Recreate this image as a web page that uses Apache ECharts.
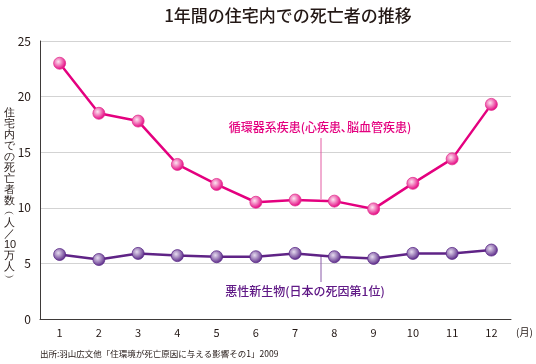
<!DOCTYPE html>
<html><head><meta charset="utf-8">
<script src="https://cdn.jsdelivr.net/npm/echarts@6/dist/echarts.min.js"></script>
<style>html,body{margin:0;padding:0;background:#fff}#c{width:536px;height:364px}</style>
</head><body><div id="c"></div>
<script>
var months = ['1','2','3','4','5','6','7','8','9','10','11','12'];
var circulatory = [23.0, 18.5, 17.8, 13.9, 12.1, 10.5, 10.7, 10.6, 9.9, 12.2, 14.4, 19.3];
var cancer = [5.8, 5.35, 5.9, 5.7, 5.6, 5.6, 5.9, 5.6, 5.45, 5.9, 5.9, 6.2];
var yTicks = [0, 5, 10, 15, 20, 25];

var FONT = '"Noto Sans CJK JP", "Noto Sans", sans-serif';
var TXT = '#231815';
var PINK = '#e4007f';
var PURPLE = '#5f2386';

function ball(c0, c1) {
  return {type:'radial', x:0.4, y:0.38, r:0.62, colorStops:[{offset:0,color:c0},{offset:1,color:c1}]};
}

var chart = echarts.init(document.getElementById('c'));
var yName = ['住','宅','内','で','の','死','亡','者','数','︵','人','／','10','万','人','︶'].join('\n');
chart.setOption({
  animation:false,
  textStyle:{fontFamily:FONT},
  title:{text:'1年間の住宅内での死亡者の推移', left:283, top:2, textAlign:'center',
    textStyle:{fontSize:17, fontWeight:500, color:TXT, fontFamily:FONT}},
  grid:{left:40, right:25, top:41, bottom:45},
  xAxis:{type:'category', data:months, boundaryGap:true,
    axisLine:{lineStyle:{color:'#3e3a39', width:1}},
    axisTick:{inside:true, length:4, lineStyle:{color:'#3e3a39'}},
    axisLabel:{color:TXT, fontSize:11, margin:8, fontFamily:FONT}},
  yAxis:{type:'value', min:0, max:25, interval:5,
    axisLine:{show:true, lineStyle:{color:'#3e3a39', width:1}},
    axisTick:{show:false},
    axisLabel:{color:TXT, fontSize:12, margin:9, fontFamily:FONT,
      formatter:function(v){return yTicks.indexOf(v)>=0? String(v):'';}},
    splitLine:{lineStyle:{color:'#d3d3d3', width:1}}},
  series:[
    {type:'line', data:circulatory, symbol:'circle', symbolSize:12,
      lineStyle:{color:PINK, width:2.5}, itemStyle:{color:ball('#fde6f1', PINK), borderColor:'#e2338f', borderWidth:0.8}, z:3},
    {type:'line', data:cancer, symbol:'circle', symbolSize:12,
      lineStyle:{color:PURPLE, width:2.5}, itemStyle:{color:ball('#e6dcef', '#5b2a88'), borderColor:'#5b2a88', borderWidth:0.8}, z:3}
  ],
  graphic:[
    {type:'text', left:4, top:107, style:{text:yName, fontSize:11, lineHeight:11, fill:TXT, align:'center', font:'11px '+FONT, width:14}},
    {type:'line', shape:{x1:321, y1:138, x2:321, y2:199}, style:{stroke:'#e35da3', lineWidth:1}, z:1},
    {type:'line', shape:{x1:321, y1:256, x2:321, y2:282}, style:{stroke:'#8a5aa8', lineWidth:1}, z:1},
    {type:'text', x:320, y:127, style:{text:'循環器系疾患(心疾患､脳血管疾患)', fill:PINK, fontSize:12, fontWeight:500, fontFamily:FONT, align:'center', verticalAlign:'middle'}},
    {type:'text', x:305, y:291, style:{text:'悪性新生物(日本の死因第1位)', fill:'#601986', fontSize:12, fontWeight:500, fontFamily:FONT, align:'center', verticalAlign:'middle'}},
    {type:'text', x:516, y:332, style:{text:'(月)', fill:TXT, fontSize:10, fontFamily:FONT, verticalAlign:'middle'}},
    {type:'text', x:40, y:354, style:{text:'出所:羽山広文他「住環境が死亡原因に与える影響その1」2009', fill:TXT, fontSize:8.5, fontFamily:FONT, verticalAlign:'middle'}}
  ]
});
</script></body></html>
